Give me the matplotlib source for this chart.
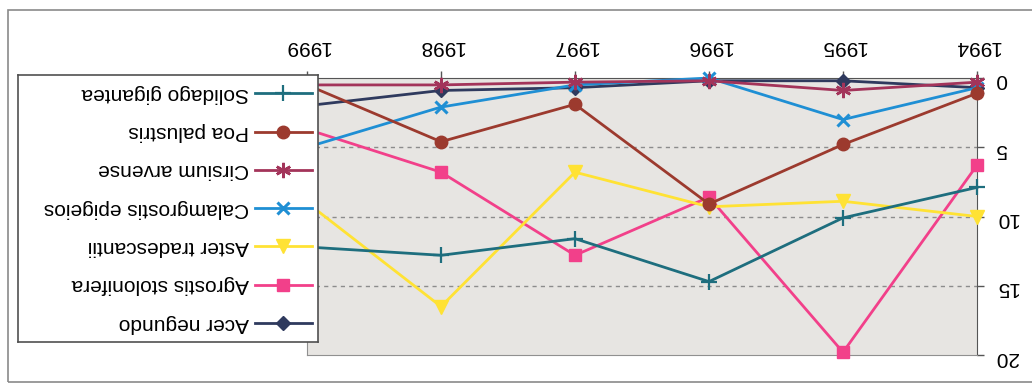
import matplotlib
matplotlib.use("Agg")
import matplotlib.pyplot as plt
from matplotlib.patches import Rectangle

plt.rcParams["font.family"] = ["Liberation Sans", "DejaVu Sans"]

# Survey years and species scores
years = ["1994", "1995", "1996", "1997", "1998", "1999"]
species = [
    "Acer negundo",
    "Agrostis stolonifera",
    "Aster tradescantii",
    "Calamgrostis epigeios",
    "Cirsium arvense",
    "Poa palustris",
    "Solidago gigantea",
]
acer_negundo = [0.7, 0.2, 0.2, 0.7, 0.9, 2.0]
agrostis_stolonifera = [6.3, 19.8, 8.6, 12.8, 6.8, 3.7]
aster_tradescantii = [10.0, 8.9, 9.3, 6.8, 16.5, 9.0]
calamgrostis_epigeios = [0.7, 3.0, 0.0, 0.5, 2.1, 5.0]
cirsium_arvense = [0.3, 0.9, 0.2, 0.3, 0.5, 0.5]
poa_palustris = [1.1, 4.8, 9.1, 1.9, 4.6, 0.5]
solidago_gigantea = [7.9, 10.1, 14.7, 11.6, 12.8, 12.2]
y_ticks = [0, 5, 10, 15, 20]

series = [acer_negundo, agrostis_stolonifera, aster_tradescantii,
          calamgrostis_epigeios, cirsium_arvense, poa_palustris,
          solidago_gigantea]
styles = [
    dict(color="#2f3a5e", marker="D", ms=7, mew=1),
    dict(color="#f2408a", marker="s", ms=9, mew=1),
    dict(color="#ffe234", marker="v", ms=10, mew=1),
    dict(color="#1f8fd4", marker="x", ms=9, mew=2.2),
    dict(color="#a3345a", marker=(6, 2, 0), ms=11, mew=1.8),
    dict(color="#9c3a2e", marker="o", ms=9, mew=1),
    dict(color="#1e6e7e", marker="+", ms=12, mew=1.6),
]
FS = 15

W, H = 1032, 385
fig = plt.figure(figsize=(W / 100, H / 100), dpi=100)
fig.patch.set_facecolor("white")

# outer chart frame
fig.patches.append(Rectangle((8 / W, 1 - 382 / H), 1.2, (382 - 10) / H,
                             transform=fig.transFigure, fill=False,
                             edgecolor="#8a8a8a", lw=1.2, zorder=0))

# plot area (page is turned upside down: both axes reversed, text rotated)
x0, x1, yt, yb = 307, 977, 78, 355
ax = fig.add_axes([x0 / W, 1 - yb / H, (x1 - x0) / W, (yb - yt) / H])
ax.set_facecolor("#e7e5e2")
xs = list(range(len(years)))
for vals, st in zip(series, styles):
    ax.plot(xs, vals, lw=2.0, color=st["color"], marker=st["marker"],
            ms=st["ms"], mew=st["mew"], mec=st["color"], mfc=st["color"],
            clip_on=False, zorder=3)
ax.set_xlim(len(years) - 1, 0)
ax.set_ylim(max(y_ticks), min(y_ticks))
ax.set_xticks(xs)
ax.set_xticklabels(years)
ax.set_yticks(y_ticks)
ax.xaxis.tick_top()
ax.yaxis.tick_right()
ax.tick_params(axis="x", labelrotation=180, direction="out", length=5,
               width=1, color="#555555", pad=11, labelsize=FS)
ax.tick_params(axis="y", labelrotation=180, direction="out", length=5,
               width=1, color="#555555", pad=8, labelsize=FS)
for y in y_ticks[1:-1]:
    ax.axhline(y, color="#8c8c8c", lw=1, ls=(0, (3, 3)), zorder=1)
for side in ("left", "bottom"):
    ax.spines[side].set_color("#909090")
for side in ("top", "right"):
    ax.spines[side].set_color("#555555")

# legend box
lx0, lx1, ly0, ly1 = 18, 318, 75, 342
lg = fig.add_axes([lx0 / W, 1 - ly1 / H, (lx1 - lx0) / W, (ly1 - ly0) / H],
                  zorder=5)
lg.set_xlim(0, lx1 - lx0)
lg.set_ylim(ly1 - ly0, 0)
lg.set_xticks([])
lg.set_yticks([])
lg.set_facecolor("white")
for s in lg.spines.values():
    s.set_color("#505050")
    s.set_linewidth(1.2)
for i, (name, st) in enumerate(zip(species, styles)):
    yy = 248 - 38.3 * i
    lg.plot([237, 294], [yy, yy], color=st["color"], lw=2.0)
    lg.plot([265], [yy], color=st["color"], marker=st["marker"],
            ms=st["ms"], mew=st["mew"], mec=st["color"], mfc=st["color"])
    lg.text(231, yy, name, rotation=180, ha="right", va="center",
            fontsize=FS, color="black")

fig.savefig("out.png", dpi=100)
